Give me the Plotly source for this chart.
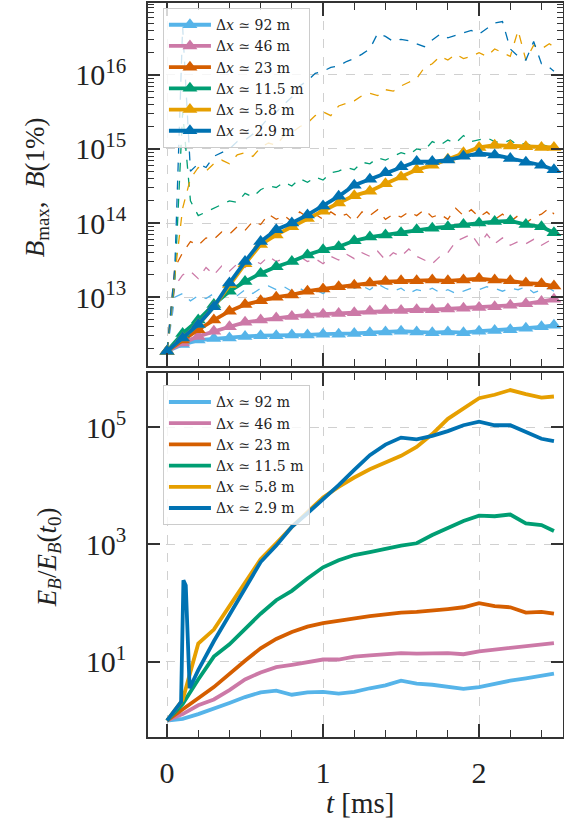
import plotly.graph_objects as go

# ---------------- data ----------------
labels = ["Δ<i>x</i> ≃ 92 m", "Δ<i>x</i> ≃ 46 m", "Δ<i>x</i> ≃ 23 m",
          "Δ<i>x</i> ≃ 11.5 m", "Δ<i>x</i> ≃ 5.8 m", "Δ<i>x</i> ≃ 2.9 m"]
colors = ["#56B4E9", "#CC79A7", "#D55E00", "#009E73", "#E69F00", "#0072B2"]

# coarse time grid [ms] (B(1%) markers, E_B curves)
t_coarse = [0.0, 0.1, 0.2, 0.3, 0.4, 0.5, 0.6, 0.7, 0.8, 0.9, 1.0, 1.1, 1.2,
            1.3, 1.4, 1.5, 1.6, 1.7, 1.8, 1.9, 2.0, 2.1, 2.2, 2.3, 2.4, 2.48]
# fine time grid [ms] (B_max)
t_fine = [0.0, 0.05, 0.1, 0.15, 0.2, 0.25, 0.3, 0.35, 0.4, 0.45, 0.5, 0.55,
          0.6, 0.65, 0.7, 0.75, 0.8, 0.85, 0.9, 0.95, 1.0, 1.05, 1.1, 1.15,
          1.2, 1.25, 1.3, 1.35, 1.4, 1.45, 1.5, 1.55, 1.6, 1.65, 1.7, 1.75,
          1.8, 1.85, 1.9, 1.95, 2.0, 2.05, 2.1, 2.15, 2.2, 2.25, 2.3, 2.35,
          2.4, 2.45, 2.48]

# log10 of B(1%)
b1_92 = [12.27, 12.36, 12.42, 12.44, 12.45, 12.47, 12.48, 12.48, 12.49, 12.49, 12.50, 12.50, 12.51,
         12.52, 12.53, 12.54, 12.53, 12.52, 12.53, 12.52, 12.54, 12.55, 12.56, 12.58, 12.60, 12.62]
b1_46 = [12.27, 12.38, 12.47, 12.54, 12.60, 12.66, 12.69, 12.72, 12.74, 12.76, 12.77, 12.78, 12.79,
         12.81, 12.82, 12.82, 12.83, 12.83, 12.84, 12.85, 12.86, 12.87, 12.89, 12.91, 12.94, 12.97]
b1_23 = [12.27, 12.42, 12.56, 12.69, 12.81, 12.90, 12.95, 13.00, 13.03, 13.08, 13.11, 13.14, 13.16,
         13.19, 13.21, 13.22, 13.22, 13.23, 13.22, 13.23, 13.25, 13.23, 13.22, 13.19, 13.18, 13.15]
b1_11 = [12.27, 12.51, 12.69, 12.90, 13.08, 13.21, 13.32, 13.41, 13.48, 13.57, 13.64, 13.68, 13.76,
         13.81, 13.84, 13.87, 13.91, 13.93, 13.95, 13.98, 14.00, 14.02, 14.03, 13.98, 13.95, 13.87]
b1_5 = [12.27, 12.45, 12.63, 12.87, 13.17, 13.45, 13.71, 13.84, 13.95, 14.06, 14.16, 14.27, 14.37,
        14.43, 14.53, 14.62, 14.72, 14.78, 14.86, 14.95, 15.02, 15.05, 15.04, 15.03, 15.02, 15.02]
b1_2 = [12.27, 12.45, 12.63, 12.87, 13.19, 13.48, 13.75, 13.91, 14.00, 14.11, 14.23, 14.36, 14.51,
        14.59, 14.68, 14.76, 14.83, 14.83, 14.85, 14.90, 14.94, 14.92, 14.87, 14.82, 14.78, 14.72]

# log10 of B_max
bmax_92 = [12.27, 13.00, 13.05, 12.95, 13.02, 12.98, 13.05, 13.00, 13.05, 13.02, 13.10, 13.05,
           13.12, 13.15, 13.10, 13.14, 13.08, 13.12, 13.06, 13.10, 13.05, 13.10, 13.15, 13.20,
           13.12, 13.15, 13.10, 13.18, 13.12, 13.08, 13.12, 13.05, 13.10, 13.08, 13.12, 13.06,
           13.10, 13.05, 13.08, 13.12, 13.10, 13.14, 13.12, 13.08, 13.12, 13.10, 13.14, 13.06,
           13.10, 13.12, 13.08]
bmax_46 = [12.27, 13.15, 13.30, 13.35, 13.25, 13.40, 13.30, 13.42, 13.35, 13.45, 13.40, 13.50,
           13.45, 13.55, 13.48, 13.52, 13.45, 13.55, 13.48, 13.52, 13.45, 13.55, 13.50, 13.58,
           13.52, 13.60, 13.55, 13.62, 13.50, 13.60, 13.55, 13.65, 13.55, 13.50, 13.45, 13.55,
           13.60, 13.75, 13.80, 13.85, 13.70, 13.85, 13.72, 13.80, 13.70, 13.75, 13.72, 13.78,
           13.70, 13.76, 13.74]
bmax_23 = [12.27, 13.40, 13.60, 13.75, 13.70, 13.80, 13.78, 13.88, 13.85, 13.95, 13.90, 14.02,
           13.98, 14.12, 14.05, 14.10, 14.02, 14.15, 14.08, 14.12, 14.05, 14.15, 14.08, 14.12,
           14.02, 14.15, 14.10, 14.18, 14.05, 14.12, 14.08, 14.15, 14.10, 14.18, 14.08, 14.12,
           14.05, 14.20, 14.10, 14.18, 14.08, 14.15, 14.05, 14.12, 14.02, 14.10, 14.00, 14.08,
           14.12, 14.20, 14.12]
bmax_11 = [12.27, 13.20, 15.50, 14.30, 14.10, 14.15, 14.20, 14.25, 14.30, 14.28, 14.40, 14.35,
           14.45, 14.50, 14.48, 14.55, 14.50, 14.60, 14.55, 14.62, 14.58, 14.68, 14.70, 14.75,
           14.72, 14.82, 14.80, 14.88, 14.85, 14.90, 14.95, 14.92, 15.00, 14.98, 15.10, 15.05,
           15.12, 15.08, 15.18, 15.10, 15.12, 15.15, 15.10, 15.08, 15.12, 15.05, 15.08, 15.02,
           15.06, 15.03, 15.04]
bmax_5 = [12.27, 13.30, 14.20, 14.60, 14.75, 14.70, 14.80, 14.85, 14.80, 14.92, 14.95, 14.90,
          15.02, 15.08, 15.05, 15.18, 15.22, 15.30, 15.35, 15.45, 15.50, 15.45, 15.58, 15.62,
          15.65, 15.72, 15.75, 15.72, 15.80, 15.78, 15.85, 15.90, 15.95, 16.10, 16.15, 16.25,
          16.20, 16.28, 16.22, 16.25, 16.30, 16.25, 16.35, 16.30, 16.25, 16.60, 16.20, 16.40,
          16.35, 16.42, 16.38]
bmax_2 = [12.27, 13.40, 16.65, 14.70, 14.80, 14.75, 14.90, 14.95, 15.00, 15.10, 15.12, 15.20,
          15.30, 15.42, 15.50, 15.60, 15.70, 15.85, 15.92, 16.02, 16.05, 16.10, 16.12, 16.18,
          16.22, 16.28, 16.35, 16.56, 16.52, 16.45, 16.48, 16.46, 16.42, 16.38, 16.47, 16.55,
          16.50, 16.53, 16.56, 16.60, 16.55, 16.62, 16.70, 16.72, 16.35, 16.25, 16.20, 16.45,
          16.15, 16.10, 16.05]

# log10 of E_B / E_B(t0)
eb_92 = [0.00, 0.03, 0.11, 0.20, 0.30, 0.40, 0.48, 0.51, 0.44, 0.48, 0.49, 0.46, 0.49,
         0.55, 0.60, 0.68, 0.63, 0.61, 0.58, 0.54, 0.57, 0.63, 0.68, 0.72, 0.76, 0.80]
eb_46 = [0.00, 0.11, 0.26, 0.36, 0.52, 0.70, 0.82, 0.91, 0.95, 1.00, 1.04, 1.04, 1.09,
         1.11, 1.13, 1.15, 1.14, 1.14, 1.15, 1.13, 1.18, 1.21, 1.24, 1.27, 1.30, 1.32]
eb_23 = [0.00, 0.20, 0.38, 0.57, 0.80, 1.02, 1.23, 1.39, 1.51, 1.60, 1.66, 1.70, 1.75,
         1.78, 1.81, 1.84, 1.85, 1.87, 1.90, 1.93, 2.00, 1.95, 1.93, 1.84, 1.85, 1.82]
eb_11 = [0.00, 0.28, 0.70, 1.09, 1.30, 1.57, 1.82, 2.05, 2.21, 2.42, 2.61, 2.73, 2.82,
         2.87, 2.93, 2.98, 3.02, 3.16, 3.28, 3.40, 3.49, 3.48, 3.51, 3.36, 3.33, 3.23]
eb_5 = [0.00, 0.35, 1.31, 1.55, 1.95, 2.35, 2.75, 3.02, 3.30, 3.55, 3.80, 3.98, 4.14,
        4.28, 4.40, 4.51, 4.66, 4.88, 5.14, 5.32, 5.49, 5.55, 5.63, 5.56, 5.50, 5.52]
t_eb_2 = [0.0, 0.05, 0.09, 0.105, 0.12, 0.145, 0.2, 0.3, 0.4, 0.5, 0.6, 0.7, 0.8, 0.9,
          1.0, 1.1, 1.2, 1.3, 1.4, 1.5, 1.6, 1.7, 1.8, 1.9, 2.0, 2.1, 2.2, 2.3, 2.4, 2.48]
eb_2 = [0.00, 0.18, 0.32, 2.39, 2.30, 0.55, 0.86, 1.35, 1.80, 2.22, 2.70, 2.98, 3.30, 3.53,
        3.76, 4.01, 4.27, 4.52, 4.70, 4.82, 4.79, 4.85, 4.93, 5.03, 5.09, 5.03, 5.03, 4.91, 4.80, 4.76]

b1_all = [b1_92, b1_46, b1_23, b1_11, b1_5, b1_2]
bmax_all = [bmax_92, bmax_46, bmax_23, bmax_11, bmax_5, bmax_2]
eb_all = [eb_92, eb_46, eb_23, eb_11, eb_5, eb_2]
eb_t = [t_coarse, t_coarse, t_coarse, t_coarse, t_coarse, t_eb_2]

top_ticks = [1e13, 1e14, 1e15, 1e16]
top_ticktext = ["10<sup>13</sup>", "10<sup>14</sup>", "10<sup>15</sup>", "10<sup>16</sup>"]
bot_ticks = [1e1, 1e3, 1e5]
bot_ticktext = ["10<sup>1</sup>", "10<sup>3</sup>", "10<sup>5</sup>"]
x_ticks = [0, 1, 2]

# ---------------- figure ----------------
SERIF = "Liberation Serif, DejaVu Serif, serif"
LEG_FONT = "DejaVu Serif, serif"
fig = go.Figure()

# B_max dashed (top)
for vals, c in zip(bmax_all, colors):
    fig.add_trace(go.Scatter(x=t_fine, y=[10 ** v for v in vals], mode="lines",
                             line=dict(color=c, width=1.3, dash="dash"),
                             showlegend=False, xaxis="x", yaxis="y", hoverinfo="skip"))
# B(1%) with triangles (top)
for vals, c, lab in zip(b1_all, colors, labels):
    fig.add_trace(go.Scatter(x=t_coarse, y=[10 ** v for v in vals], mode="lines+markers",
                             line=dict(color=c, width=3.8),
                             marker=dict(symbol="triangle-up", size=13, color=c),
                             name=lab, legend="legend", xaxis="x", yaxis="y"))
# E_B (bottom)
for tt, vals, c, lab in zip(eb_t, eb_all, colors, labels):
    fig.add_trace(go.Scatter(x=tt, y=[10 ** v for v in vals], mode="lines",
                             line=dict(color=c, width=3.8),
                             name=lab, legend="legend2", xaxis="x2", yaxis="y2"))

axis_common = dict(showline=True, linecolor="#333333", linewidth=1.5, mirror="allticks",
                   ticks="inside", tickcolor="#333333", tickwidth=1.5, automargin=False,
                   showgrid=True, gridcolor="#d0d0d0", griddash="dash", gridwidth=1,
                   zeroline=False, tickfont=dict(family=SERIF, size=30, color="#222"))

xr = [-0.122, 2.538]
legend_common = dict(xanchor="left", yanchor="top",
                     bgcolor="rgba(255,255,255,0.8)", bordercolor="#cccccc", borderwidth=1,
                     font=dict(family=LEG_FONT, size=14, color="#222"), itemwidth=42,
                     tracegroupgap=0)
fig.update_layout(
    width=564, height=827,
    margin=dict(l=148, r=1, t=3, b=90, autoexpand=False),
    plot_bgcolor="white", paper_bgcolor="white",
    font=dict(family=SERIF, color="#222"),
    xaxis=dict(domain=[0, 1], range=xr, tickvals=x_ticks, showticklabels=False,
               ticklen=13, minor=dict(ticks="inside", dtick=0.2, ticklen=7, tickcolor="#333333", tickwidth=1.2),
               anchor="y", matches="x2", **axis_common),
    yaxis=dict(domain=[0.5054, 1], type="log", range=[12.07, 16.97], tickvals=top_ticks,
               ticktext=top_ticktext, ticklen=12, ticklabelstandoff=14,
               minor=dict(ticks="inside", dtick="D1", ticklen=6, tickcolor="#333333", tickwidth=1.2, showgrid=False),
               anchor="x", **axis_common),
    xaxis2=dict(domain=[0, 1], range=xr, tickvals=x_ticks, ticktext=["0", "1", "2"],
                ticklen=13, ticklabelstandoff=8,
                minor=dict(ticks="inside", dtick=0.2, ticklen=7, tickcolor="#333333", tickwidth=1.2),
                anchor="y2", **axis_common),
    yaxis2=dict(domain=[0, 0.4959], type="log", range=[-0.28, 5.92], tickvals=bot_ticks,
                ticktext=bot_ticktext, ticklen=12, ticklabelstandoff=14,
                anchor="x2", **axis_common),
    legend=dict(x=0.036, y=0.993, **legend_common),
    legend2=dict(x=0.036, y=0.479, **legend_common),
    annotations=[
        dict(text="<i>B</i><sub>max</sub>,  <i>B</i>(1%)", xref="paper", yref="paper",
             x=-0.2675, y=0.749, textangle=-90, showarrow=False,
             font=dict(family=SERIF, size=27, color="#222"), xanchor="center", yanchor="middle"),
        dict(text="<i>E</i><sub><i>B</i></sub>/<i>E</i><sub><i>B</i></sub>(<i>t</i><sub>0</sub>)",
             xref="paper", yref="paper", x=-0.2386, y=0.245, textangle=-90, showarrow=False,
             font=dict(family=SERIF, size=27, color="#222"), xanchor="center", yanchor="middle"),
        dict(text="<i>t</i> [ms]", xref="paper", yref="paper", x=0.511, y=-0.0899,
             showarrow=False, font=dict(family=SERIF, size=29, color="#222"),
             xanchor="center", yanchor="middle"),
    ],
)

fig.write_html("out.html", config={"displayModeBar": False},
               post_script="document.body.style.margin='0px';document.body.style.padding='0px';")
